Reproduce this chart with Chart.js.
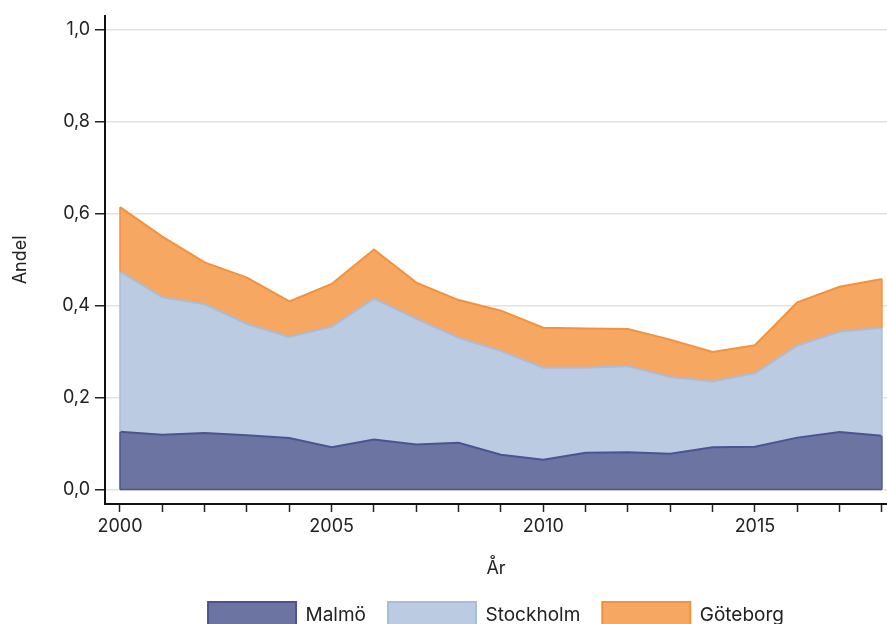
<!DOCTYPE html>
<html><head><meta charset="utf-8">
<script src="https://cdn.jsdelivr.net/npm/chart.js@4.4.1/dist/chart.umd.min.js"></script>
<style>
html,body{margin:0;padding:0;background:#fff;overflow:hidden;}
#wrap{width:887px;height:624px;overflow:hidden;position:relative;background:#fff;}
canvas{display:block;}
</style></head><body>
<div id="wrap"><canvas id="c" width="887" height="638" style="width:887px;height:638px"></canvas></div>
<script>
const years = [2000,2001,2002,2003,2004,2005,2006,2007,2008,2009,2010,2011,2012,2013,2014,2015,2016,2017,2018];
const malmo     = [0.126,0.119,0.123,0.118,0.112,0.092,0.109,0.098,0.102,0.076,0.065,0.080,0.081,0.078,0.092,0.093,0.113,0.125,0.117];
const stockholm = [0.348,0.299,0.280,0.242,0.220,0.262,0.306,0.273,0.228,0.225,0.200,0.185,0.187,0.167,0.143,0.160,0.200,0.218,0.235];
const goteborg  = [0.140,0.132,0.091,0.101,0.077,0.093,0.107,0.079,0.082,0.088,0.087,0.085,0.081,0.081,0.064,0.061,0.094,0.098,0.106];
const seriesNames = ['Malmö','Stockholm','Göteborg'];
const yTickValues = [0,0.2,0.4,0.6,0.8,1.0];
const xLabelYears = [2000,2005,2010,2015];
const xTitle = 'År';
const yTitle = 'Andel';

const FONT = 'Inter, "Noto Sans", sans-serif';
const toPts = arr => years.map((y,i)=>({x:y,y:arr[i]}));

// strokes the side edges (and the base of the first area) using the library's own element positions
const edgePlugin = {
  id: 'edges',
  afterDatasetsDraw(chart) {
    const ctx = chart.ctx;
    const yScale = chart.scales.y;
    const zeroY = yScale.getPixelForValue(0);
    ctx.save();
    chart.data.datasets.forEach((ds, i) => {
      const meta = chart.getDatasetMeta(i);
      const pts = meta.data;
      if (!pts.length) return;
      const prev = i > 0 ? chart.getDatasetMeta(i - 1).data : null;
      const first = pts[0], last = pts[pts.length - 1];
      const b0 = prev ? prev[0].y : zeroY;
      const b1 = prev ? prev[prev.length - 1].y : zeroY;
      ctx.strokeStyle = ds.borderColor;
      ctx.lineWidth = 1.5;
      ctx.beginPath();
      ctx.moveTo(first.x, first.y); ctx.lineTo(first.x, b0);
      ctx.moveTo(last.x, last.y); ctx.lineTo(last.x, b1);
      if (!prev) { ctx.moveTo(first.x, zeroY); ctx.lineTo(last.x, zeroY); }
      ctx.stroke();
    });
    ctx.restore();
  }
};

new Chart(document.getElementById('c'), {
  type: 'line',
  data: {
    datasets: [
      {label: seriesNames[0], data: toPts(malmo), fill: 'origin',
       backgroundColor: '#6c74a1', borderColor: '#4b5491', borderWidth: 2},
      {label: seriesNames[1], data: toPts(stockholm), fill: '-1',
       backgroundColor: '#bbcce2', borderColor: '#a9bcdb', borderWidth: 2},
      {label: seriesNames[2], data: toPts(goteborg), fill: '-1',
       backgroundColor: '#f6a862', borderColor: '#f3923a', borderWidth: 2}
    ]
  },
  plugins: [edgePlugin],
  options: {
    responsive: false,
    animation: false,
    layout: {padding: {left: 0, right: 0, top: 12, bottom: 0}},
    elements: {point: {radius: 0, hoverRadius: 0}, line: {tension: 0}},
    plugins: {
      tooltip: {enabled: false},
      legend: {
        position: 'bottom',
        fullSize: false,
        labels: {
          boxWidth: 88, boxHeight: 26, padding: 22,
          color: '#222',
          font: {family: FONT, size: 19}
        }
      }
    },
    scales: {
      x: {
        type: 'linear',
        min: 1999.646, max: 2018.12,
        afterFit: s => { s.height = 76; },
        afterBuildTicks: s => { s.ticks = years.map(v => ({value: v})); },
        ticks: {
          autoSkip: false, maxRotation: 0, padding: 4,
          color: '#222', font: {family: FONT, size: 18},
          callback: v => xLabelYears.includes(v) ? String(v) : ''
        },
        grid: {drawOnChartArea: false, drawTicks: true, tickLength: 8, tickColor: '#222', tickWidth: 1.5},
        border: {display: true, color: '#111', width: 2},
        title: {display: true, text: xTitle, color: '#222', font: {family: FONT, size: 18}, padding: {top: 0, bottom: 1}}
      },
      y: {
        type: 'linear',
        stacked: true,
        min: -0.0313, max: 1.03,
        afterFit: s => { s.width = 105; },
        afterBuildTicks: s => { s.ticks = yTickValues.map(v => ({value: v})); },
        ticks: {
          padding: 5, color: '#222', font: {family: FONT, size: 18},
          callback: v => v.toFixed(1).replace('.', ',')
        },
        grid: {drawOnChartArea: true, drawTicks: true, tickLength: 10, color: '#e2e2e2', lineWidth: 1.5, tickColor: '#222', tickWidth: 1.5},
        border: {display: true, color: '#111', width: 2},
        title: {display: true, text: yTitle, color: '#222', font: {family: FONT, size: 18}, padding: {top: 10, bottom: 0}}
      }
    }
  }
});
</script>
</body></html>
